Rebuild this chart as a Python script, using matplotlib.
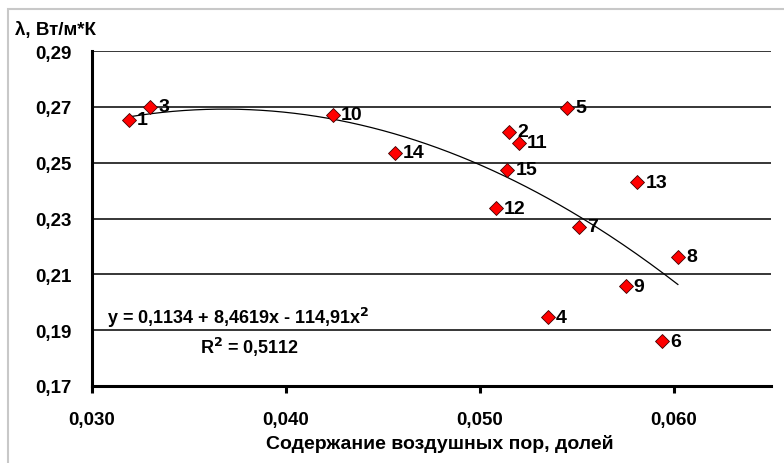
import numpy as np
import matplotlib
matplotlib.use("Agg")
import matplotlib.pyplot as plt
from matplotlib.patches import Rectangle

# Data
labels = ["1", "2", "3", "4", "5", "6", "7", "8", "9", "10", "11", "12", "13", "14", "15"]
pores = [0.0319, 0.0515, 0.0330, 0.0535, 0.0545, 0.0594, 0.0551, 0.0602, 0.0575,
         0.0424, 0.0520, 0.0508, 0.0581, 0.0456, 0.0514]
lam = [0.2653, 0.2610, 0.2700, 0.1947, 0.2696, 0.1861, 0.2271, 0.2163, 0.2057,
       0.2671, 0.2571, 0.2336, 0.2429, 0.2535, 0.2475]
# Trend-line coefficients as printed on the chart: y = a + b x + c x^2
coef_a, coef_b, coef_c = 0.1134, 8.4619, -114.91
eq_text = "y = 0,1134 + 8,4619x - 114,91x$^{2}$"
r2_text = "R$^{2}$ = 0,5112"
xticks = [0.030, 0.040, 0.050, 0.060]
xticklabels = ["0,030", "0,040", "0,050", "0,060"]
yticks = [0.17, 0.19, 0.21, 0.23, 0.25, 0.27, 0.29]
yticklabels = ["0,17", "0,19", "0,21", "0,23", "0,25", "0,27", "0,29"]

FONT = ["Liberation Sans", "DejaVu Sans"]
plt.rcParams["font.family"] = FONT
plt.rcParams["font.weight"] = "bold"
plt.rcParams["mathtext.default"] = "bf"

W, H = 784, 464
fig = plt.figure(figsize=(W / 100, H / 100), dpi=100)
fig.patch.set_facecolor("white")

# outer chart frame (light gray)
fig.add_artist(Rectangle((8 / W, -0.1), 1.2, 1 - 10 / H + 0.1, transform=fig.transFigure,
                         fill=False, edgecolor="#c8c8c8", linewidth=1.5))

ax = fig.add_axes([92 / W, 1 - 387 / H, (771 - 92) / W, (387 - 52) / H])
ax.set_xlim(0.030, 0.065)
ax.set_ylim(0.17, 0.29)

for yv in yticks[1:]:
    ax.axhline(yv, color="black", linewidth=1.1, zorder=1)

ax.spines["top"].set_visible(False)
ax.spines["right"].set_visible(False)
ax.spines["left"].set_linewidth(2.2)
ax.spines["bottom"].set_linewidth(2.2)

ax.set_xticks(xticks)
ax.set_xticklabels(xticklabels, fontsize=13.5)
ax.set_yticks(yticks)
ax.set_yticklabels(yticklabels, fontsize=13.5)
for t in ax.get_xticklabels() + ax.get_yticklabels():
    t.set_fontweight("bold")
ax.tick_params(axis="x", direction="out", length=5, width=2.2, pad=13)
ax.tick_params(axis="y", length=0, pad=14.5)

# trend line
xs = np.linspace(min(pores), max(pores), 200)
ys = coef_a + coef_b * xs + coef_c * xs ** 2
ax.plot(xs, ys, color="black", linewidth=0.9, zorder=2)

ax.plot(pores, lam, linestyle="none", marker="D", markersize=7.5,
        markerfacecolor="#ff0000", markeredgecolor="#400000", markeredgewidth=0.6, zorder=3)

for lb, xv, yv in zip(labels, pores, lam):
    ax.annotate(lb, (xv, yv), xytext=(6, 0), textcoords="offset points",
                ha="left", va="center", fontsize=14, fontweight="bold", zorder=4)

ax.text(107 / W, 1 - 318 / H, eq_text, transform=fig.transFigure, ha="left", va="center",
        fontsize=13, fontweight="bold")
ax.text(250 / W, 1 - 347 / H, r2_text, transform=fig.transFigure, ha="center", va="center",
        fontsize=13, fontweight="bold")

fig.text(15 / W, 1 - 30 / H, "λ, Вт/м*К", ha="left", va="center", fontsize=13.5,
         fontweight="bold")
fig.text(440 / W, 1 - 444 / H, "Содержание воздушных пор, долей", ha="center", va="center",
         fontsize=14, fontweight="bold")

fig.savefig("out.png", dpi=100)
